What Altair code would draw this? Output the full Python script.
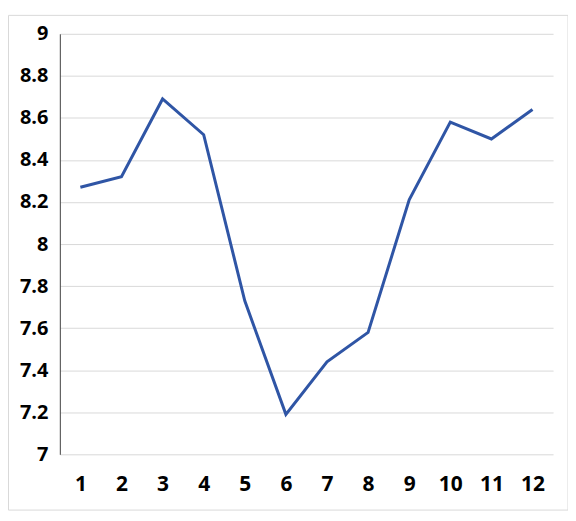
import altair as alt
import pandas as pd

months = [str(i) for i in range(1, 13)]
values = [8.27, 8.32, 8.69, 8.52, 7.73, 7.19, 7.44, 7.58, 8.21, 8.58, 8.50, 8.64]
y_ticks = [7, 7.2, 7.4, 7.6, 7.8, 8, 8.2, 8.4, 8.6, 8.8, 9]

df = pd.DataFrame({"month": months, "value": values})

line = alt.Chart(df).mark_line(color="#2F55A5", strokeWidth=3).encode(
    x=alt.X("month:N", sort=months, title=None,
            scale=alt.Scale(paddingInner=0, paddingOuter=0),
            axis=alt.Axis(labelAngle=0, domain=False, ticks=False, grid=False,
                          labelPadding=19, labelFontSize=21, labelFont="Open Sans",
                          labelFontWeight="bold", labelColor="#000000")),
    y=alt.Y("value:Q", title=None, scale=alt.Scale(domain=[7, 9], nice=False, zero=False),
            axis=alt.Axis(values=y_ticks, format="~g", domain=True, domainColor="#404040",
                          domainWidth=1, ticks=False, grid=True, gridColor="#D9D9D9",
                          labelPadding=12, labelFontSize=20, labelFont="Open Sans",
                          labelFontWeight="bold", labelColor="#000000")),
)

border = alt.Chart(pd.DataFrame({"a": [0]})).mark_rect(
    fill=None, stroke="#D9D9D9", strokeWidth=1
).encode(
    x=alt.value(-51.5), x2=alt.value(510), y=alt.value(-18.5), y2=alt.value(478)
)

chart = alt.layer(border, line).properties(
    width=495, height=422,
    autosize=alt.AutoSizeParams(type="none"),
    padding={"left": 52, "top": 25, "right": 15, "bottom": 57},
).configure_view(stroke=None)

chart.save("out.html", embed_options={"renderer": "svg", "actions": False})
